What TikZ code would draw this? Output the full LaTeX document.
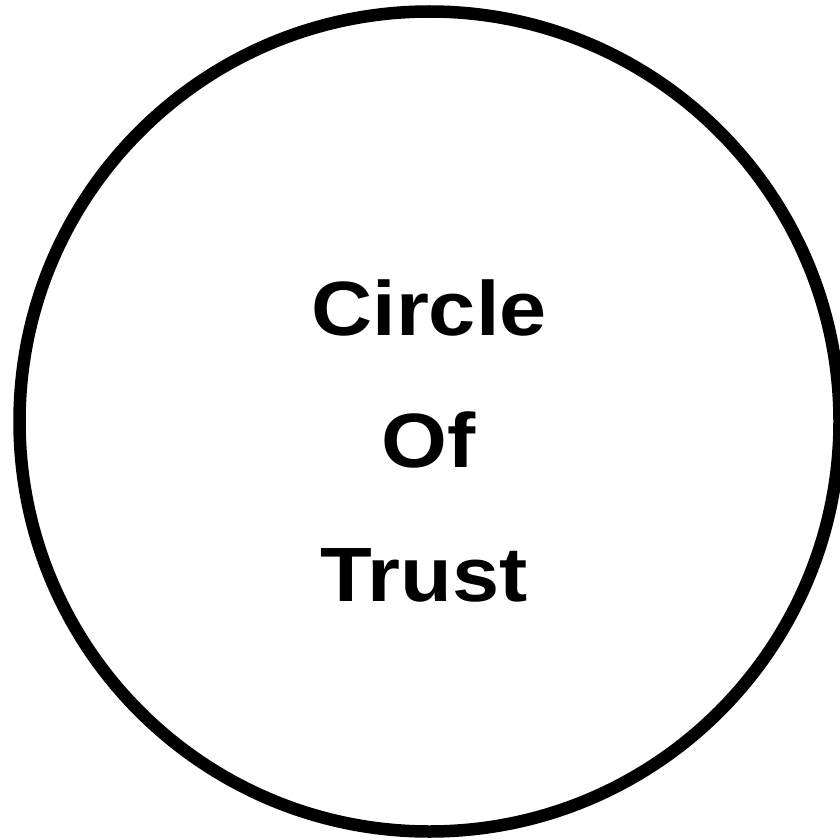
\documentclass[tikz,border=0pt]{standalone}
\usepackage{fontspec}
\usepackage{graphicx}
\setmainfont{Liberation Sans}
\newcommand{\wide}[1]{\scalebox{1.1}[1]{#1}}
\begin{document}
\begin{tikzpicture}[x=1pt,y=-1pt,
  lbl/.style={anchor=base,inner sep=0pt,font=\fontsize{77}{80}\selectfont\bfseries}]
\useasboundingbox (0,0) rectangle (840,840);
\fill[white] (0,0) rectangle (840,840);
\draw[line width=12.5pt] (429.5,421.5) circle (410);
\node[lbl] (c) at (429,335) {\wide{Circle}};
\node[lbl] (o) at (428.5,467) {\wide{Of}};
\node[lbl] (t) at (424,601) {\wide{Trust}};
\end{tikzpicture}
\end{document}
